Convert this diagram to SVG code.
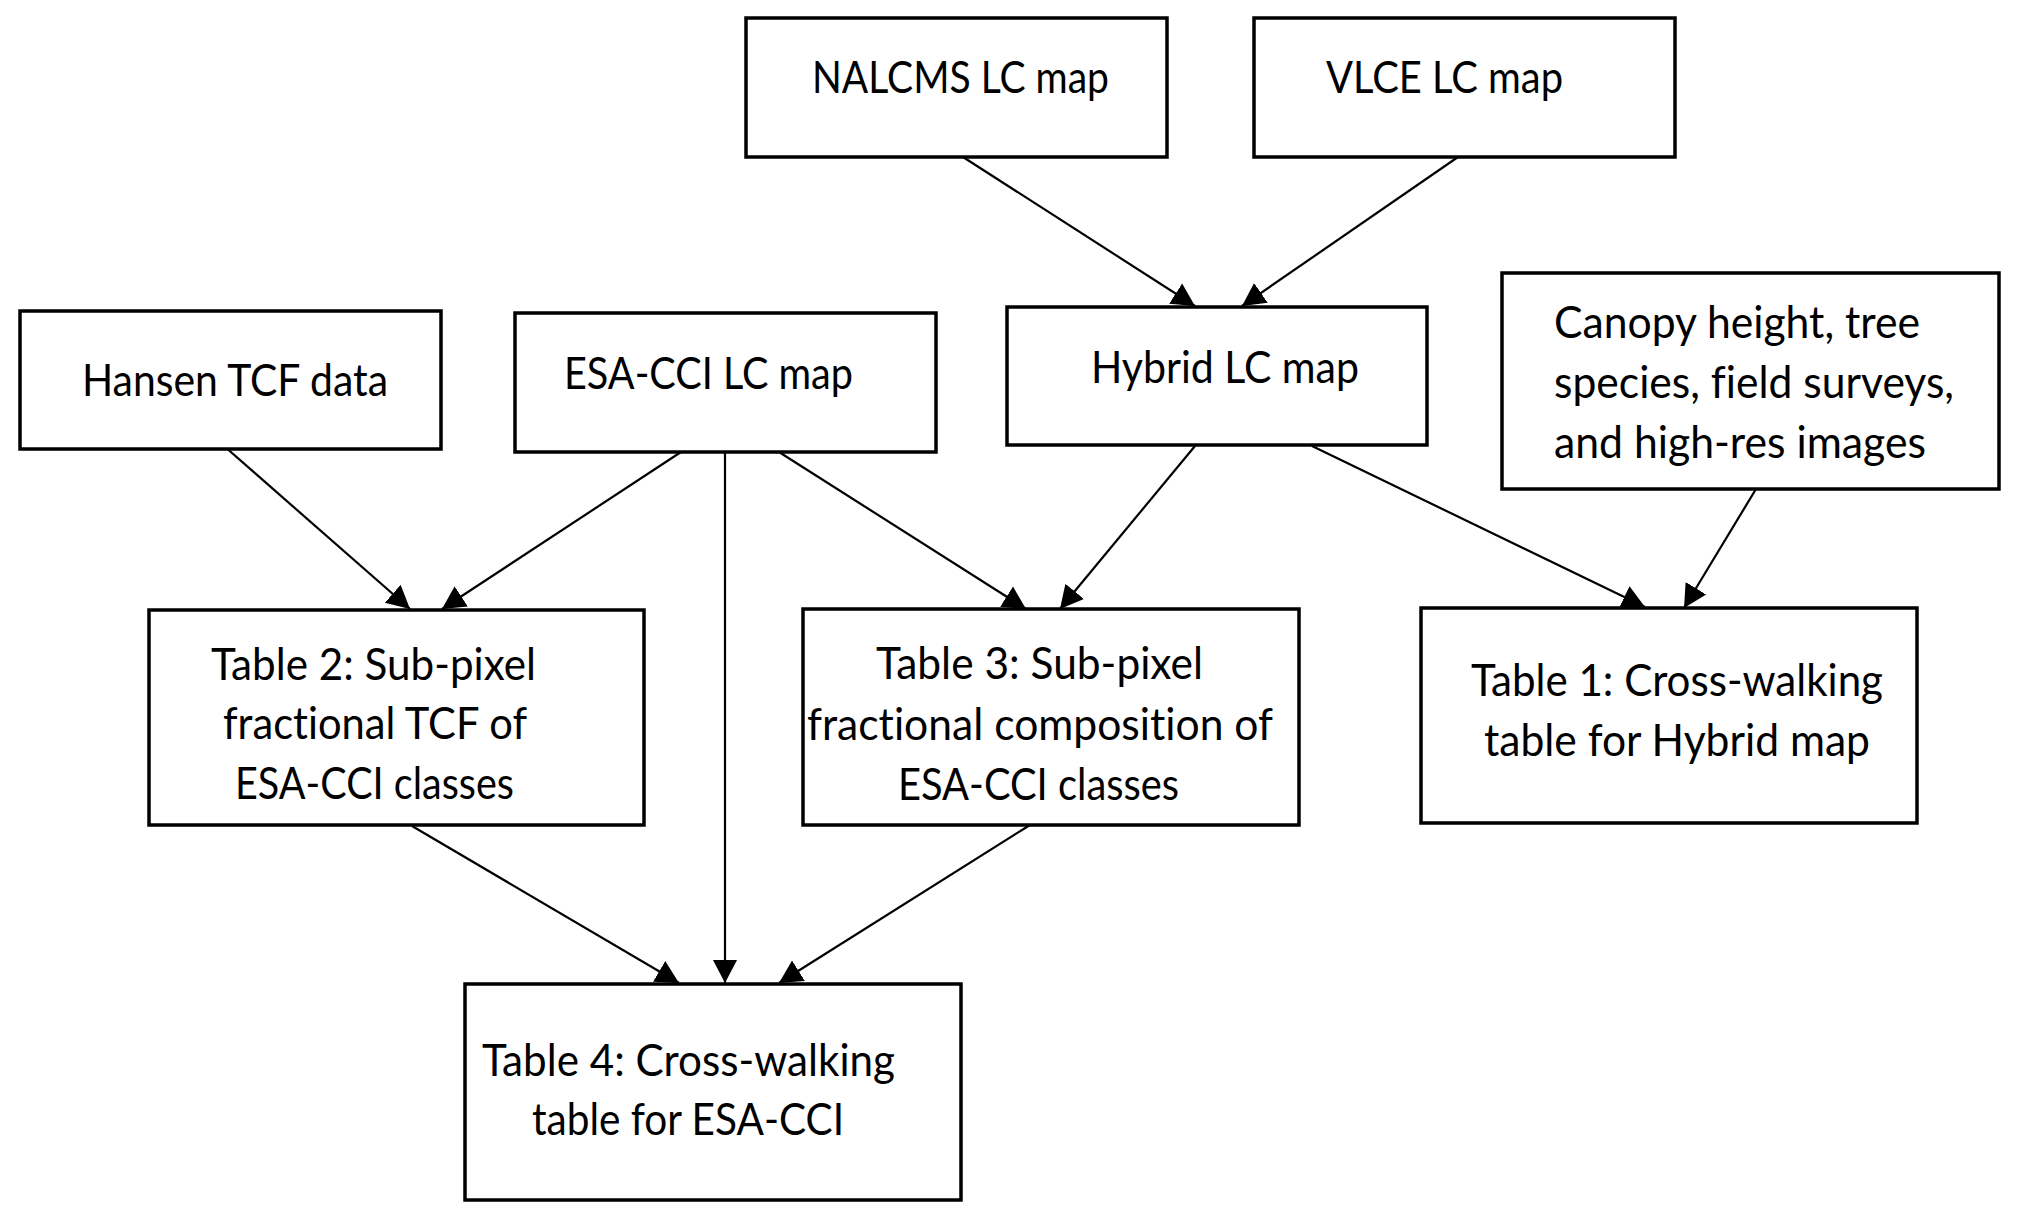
<svg xmlns="http://www.w3.org/2000/svg" width="2019" height="1220" viewBox="0 0 2019 1220">
<style>
.box{fill:#fff;stroke:#000;stroke-width:3.5}
.lbl{font-family:Lato,"Liberation Sans",sans-serif;font-size:45px;fill:#000;font-variant-ligatures:none;font-feature-settings:"liga" 0}
.con{stroke:#000;stroke-width:2.2;fill:none;marker-end:url(#ah)}
</style>
<defs>
<marker id="ah" markerUnits="userSpaceOnUse" markerWidth="25" markerHeight="26" refX="23" refY="13" orient="auto">
<path d="M0,1 L23,13 L0,25 z" fill="#000"/>
</marker>
</defs>
<rect width="2019" height="1220" fill="#fff"/>
<g id="connectors">
<line class="con" x1="963" y1="157" x2="1195" y2="306"/>
<line class="con" x1="1458" y1="157" x2="1242" y2="306"/>
<line class="con" x1="224" y1="446" x2="410" y2="609"/>
<line class="con" x1="681" y1="452" x2="442" y2="609"/>
<line class="con" x1="725" y1="452" x2="725" y2="983"/>
<line class="con" x1="779" y1="452" x2="1026" y2="609"/>
<line class="con" x1="1195" y1="446" x2="1060" y2="609"/>
<line class="con" x1="1312" y1="446" x2="1645" y2="607"/>
<line class="con" x1="1756" y1="489" x2="1684" y2="608"/>
<line class="con" x1="412" y1="826" x2="679" y2="983"/>
<line class="con" x1="1030" y1="825" x2="779" y2="983"/>
</g>
<g id="nalcms">
<rect class="box" x="746" y="18" width="421" height="139"/>
<text class="lbl" x="812" y="93" textLength="297" lengthAdjust="spacingAndGlyphs">NALCMS LC map</text>
</g>
<g id="vlce">
<rect class="box" x="1254" y="18" width="421" height="139"/>
<text class="lbl" x="1326" y="93" textLength="237" lengthAdjust="spacingAndGlyphs">VLCE LC map</text>
</g>
<g id="hansen">
<rect class="box" x="20" y="311" width="421" height="138"/>
<text class="lbl" x="82" y="396" textLength="306" lengthAdjust="spacingAndGlyphs">Hansen TCF data</text>
</g>
<g id="esacci">
<rect class="box" x="515" y="313" width="421" height="139"/>
<text class="lbl" x="564" y="389" textLength="289" lengthAdjust="spacingAndGlyphs">ESA-CCI LC map</text>
</g>
<g id="hybrid">
<rect class="box" x="1007" y="307" width="420" height="138"/>
<text class="lbl" x="1091" y="383" textLength="268" lengthAdjust="spacingAndGlyphs">Hybrid LC map</text>
</g>
<g id="canopy">
<rect class="box" x="1502" y="273" width="497" height="216"/>
<text class="lbl" x="1554" y="338" textLength="366" lengthAdjust="spacingAndGlyphs">Canopy height, tree</text>
<text class="lbl" x="1554" y="398" textLength="400" lengthAdjust="spacingAndGlyphs">species, field surveys,</text>
<text class="lbl" x="1554" y="458" textLength="372" lengthAdjust="spacingAndGlyphs">and high-res images</text>
</g>
<g id="table2">
<rect class="box" x="149" y="610" width="495" height="215"/>
<text class="lbl" x="211" y="680" textLength="325" lengthAdjust="spacingAndGlyphs">Table 2: Sub-pixel</text>
<text class="lbl" x="223" y="739" textLength="304" lengthAdjust="spacingAndGlyphs">fractional TCF of</text>
<text class="lbl" x="235" y="799" textLength="279" lengthAdjust="spacingAndGlyphs">ESA-CCI classes</text>
</g>
<g id="table3">
<rect class="box" x="803" y="609" width="496" height="216"/>
<text class="lbl" x="876" y="679" textLength="327" lengthAdjust="spacingAndGlyphs">Table 3: Sub-pixel</text>
<text class="lbl" x="807" y="740" textLength="466" lengthAdjust="spacingAndGlyphs">fractional composition of</text>
<text class="lbl" x="898" y="800" textLength="281" lengthAdjust="spacingAndGlyphs">ESA-CCI classes</text>
</g>
<g id="table1">
<rect class="box" x="1421" y="608" width="496" height="215"/>
<text class="lbl" x="1471" y="696" textLength="412" lengthAdjust="spacingAndGlyphs">Table 1: Cross-walking</text>
<text class="lbl" x="1484" y="756" textLength="386" lengthAdjust="spacingAndGlyphs">table for Hybrid map</text>
</g>
<g id="table4">
<rect class="box" x="465" y="984" width="496" height="216"/>
<text class="lbl" x="482" y="1076" textLength="413" lengthAdjust="spacingAndGlyphs">Table 4: Cross-walking</text>
<text class="lbl" x="532" y="1135" textLength="312" lengthAdjust="spacingAndGlyphs">table for ESA-CCI</text>
</g>
</svg>
